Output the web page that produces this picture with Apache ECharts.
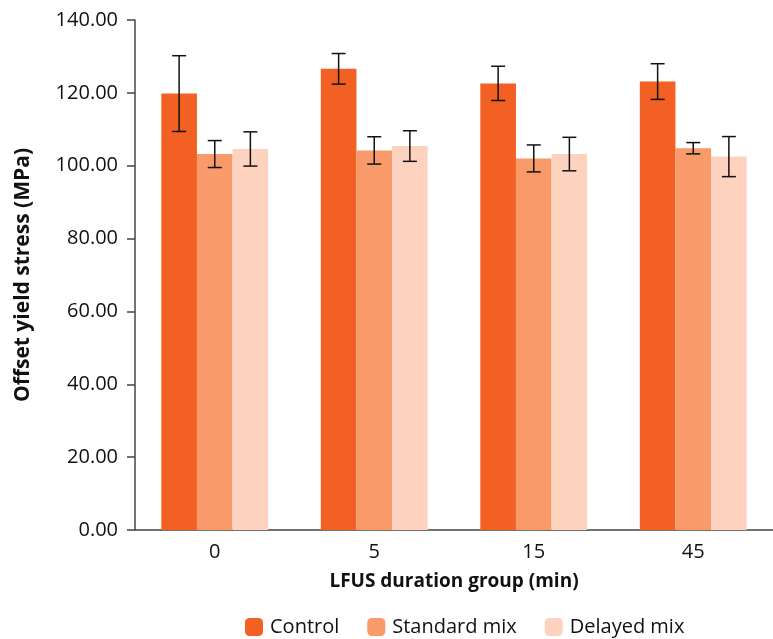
<!DOCTYPE html>
<html><head><meta charset="utf-8">
<script src="https://cdn.jsdelivr.net/npm/echarts@6/dist/echarts.min.js"></script>
<style>html,body{margin:0;padding:0;background:#fff}#c{width:773px;height:639px}</style>
</head><body><div id="c"></div>
<script>
const categories = ['0', '5', '15', '45'];
const seriesNames = ['Control', 'Standard mix', 'Delayed mix'];
const controlMean = [119.8, 126.6, 122.6, 123.1];
const controlSD = [10.4, 4.2, 4.7, 4.9];
const standardMean = [103.2, 104.2, 102.0, 104.8];
const standardSD = [3.7, 3.75, 3.7, 1.55];
const delayedMean = [104.6, 105.4, 103.2, 102.5];
const delayedSD = [4.7, 4.2, 4.6, 5.5];
const yTicks = [0, 20, 40, 60, 80, 100, 120, 140];

const colors = ['#F26024', '#F89A6A', '#FDD3C0'];
const means = [controlMean, standardMean, delayedMean];
const sds = [controlSD, standardSD, delayedSD];
const font = '"Open Sans", "DejaVu Sans", sans-serif';

const chart = echarts.init(document.getElementById('c'));
const series = [];
means.forEach((m, i) => {
  series.push({
    name: seriesNames[i], type: 'bar', data: m,
    itemStyle: { color: colors[i] },
    barGap: '0%', barCategoryGap: '33%'
  });
});
means.forEach((m, i) => {
  series.push({
    type: 'custom', name: 'err' + i, silent: true, z: 10,
    data: m.map((v, k) => [k, v - sds[i][k], v + sds[i][k]]),
    encode: { x: 0, y: [1, 2] },
    renderItem: function (params, api) {
      const k = api.value(0);
      const lo = api.coord([k, api.value(1)]);
      const hi = api.coord([k, api.value(2)]);
      const band = api.size([1, 0])[0];
      const bw = band * 0.67 / 3;
      const x = lo[0] + (i - 1) * bw;
      const cap = 7;
      const st = { stroke: '#111', lineWidth: 1.5 };
      return { type: 'group', children: [
        { type: 'line', shape: { x1: x, y1: hi[1], x2: x, y2: lo[1] }, style: st },
        { type: 'line', shape: { x1: x - cap, y1: hi[1], x2: x + cap, y2: hi[1] }, style: st },
        { type: 'line', shape: { x1: x - cap, y1: lo[1], x2: x + cap, y2: lo[1] }, style: st }
      ]};
    }
  });
});

chart.setOption({
  animation: false,
  textStyle: { fontFamily: font },
  grid: { left: 135, right: -11, top: 20, bottom: 109 },
  legend: {
    data: seriesNames, top: 617, left: 245, padding: 0,
    itemWidth: 18, itemHeight: 18, itemGap: 28,
    textStyle: { fontSize: 20, color: '#111', fontFamily: font, padding: [0, 0, 0, 2] }
  },
  xAxis: {
    type: 'category', data: categories,
    name: 'LFUS duration group (min)', nameLocation: 'middle', nameGap: 42,
    nameTextStyle: { fontSize: 19, fontWeight: 'bold', color: '#111', fontFamily: font },
    axisLine: { lineStyle: { color: '#444', width: 1.5 } },
    axisTick: { show: false },
    axisLabel: { fontSize: 20, color: '#111', margin: 12 }
  },
  yAxis: {
    type: 'value', min: yTicks[0], max: yTicks[yTicks.length - 1], interval: 20,
    name: 'Offset yield stress (MPa)', nameLocation: 'middle', nameGap: 101,
    nameTextStyle: { fontSize: 21, fontWeight: 'bold', color: '#111', fontFamily: font },
    axisLine: { show: true, lineStyle: { color: '#444', width: 1.5 } },
    axisTick: { show: true, length: 8, lineStyle: { color: '#444', width: 1.5 } },
    splitLine: { show: false },
    axisLabel: { fontSize: 20, color: '#111', margin: 17, formatter: v => v.toFixed(2) }
  },
  series: series
});
</script></body></html>
